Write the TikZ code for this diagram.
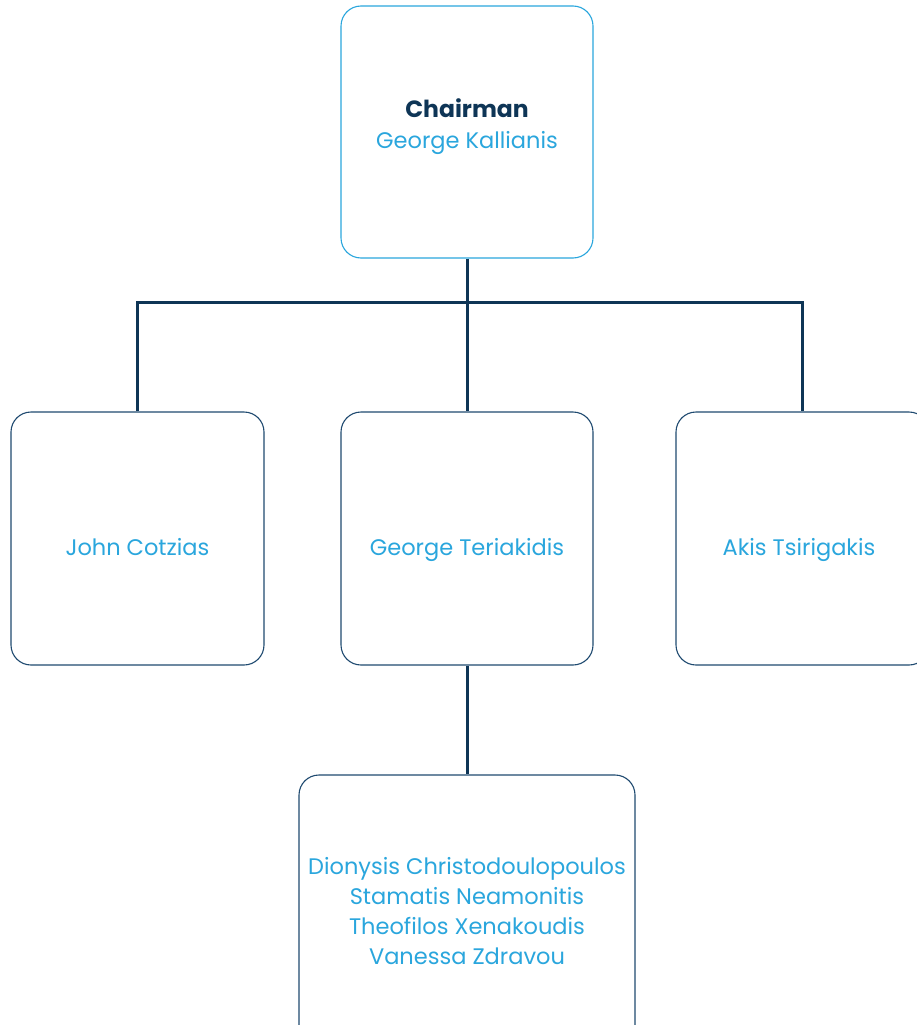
\documentclass[tikz,border=0pt]{standalone}
\usepackage{fontspec}
\setmainfont{Poppins}
\definecolor{navy}{HTML}{0E3556}
\definecolor{skyblue}{HTML}{2AA6DD}
\definecolor{cardline}{HTML}{1F4A70}
\begin{document}
\begin{tikzpicture}[x=1pt,y=-1pt,
  card/.style={draw=cardline, line width=1.1pt, rounded corners=20pt, fill=white, inner sep=0pt},
  topcard/.style={card, draw=skyblue},
  link/.style={draw=navy, line width=3pt},
  person/.style={text=skyblue, font=\fontsize{22.5}{30}\selectfont, anchor=base, inner sep=0pt, align=center},
  role/.style={text=navy, font=\fontsize{23.5}{30}\selectfont\bfseries, anchor=base, inner sep=0pt}]
\useasboundingbox (0,0) rectangle (917,1025);
% boxes
\node[topcard, minimum width=252pt, minimum height=252pt] (chair) at (467,132) {};
\node[card, minimum width=253pt, minimum height=253pt] (john) at (137.5,538.5) {};
\node[card, minimum width=252pt, minimum height=253pt] (teri) at (467,538.5) {};
\node[card, minimum width=253pt, minimum height=253pt] (akis) at (802.5,538.5) {};
\node[card, minimum width=336pt, minimum height=276pt] (team) at (467,913) {};
% connectors
\coordinate (bus) at (467,302);
\draw[link] (chair.south) -- (bus);
\draw[link] (john.north) |- (bus) -| (akis.north);
\draw[link] (bus) -- (teri.north);
\draw[link] (teri.south) -- (team.north);
% labels
\node[role] (chairT) at (467,117) {Chairman};
\node[person] (chairN) at (467,148) {George Kallianis};
\node[person] (johnN) at (137.5,555) {John Cotzias};
\node[person] (teriN) at (467,555) {George Teriakidis};
\node[person] (akisN) at (799,555) {Akis Tsirigakis};
\node[person, anchor=north] (teamN) at (467,857) {Dionysis Christodoulopoulos\\Stamatis Neamonitis\\Theofilos Xenakoudis\\Vanessa Zdravou};
\end{tikzpicture}
\end{document}
